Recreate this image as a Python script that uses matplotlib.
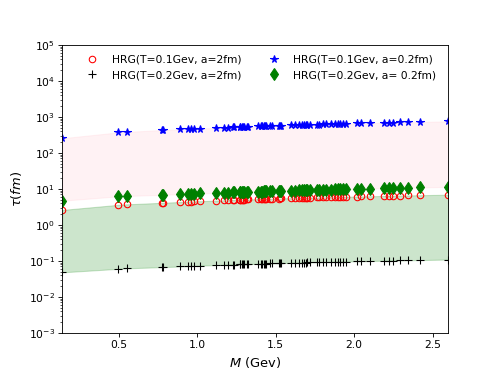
import numpy as np
import matplotlib
matplotlib.use("Agg")
import matplotlib.pyplot as plt
from matplotlib.ticker import LogLocator

# hadron masses (GeV)
mass = [0.138, 0.494, 0.548, 0.775, 0.782, 0.892, 0.939, 0.958, 0.980, 1.019,
        1.116, 1.170, 1.193, 1.230, 1.232, 1.272, 1.275, 1.282, 1.294, 1.300,
        1.318, 1.320, 1.385, 1.405, 1.414, 1.425, 1.430, 1.440, 1.465, 1.475,
        1.520, 1.525, 1.535, 1.600, 1.620, 1.650, 1.670, 1.680, 1.690, 1.700,
        1.720, 1.760, 1.775, 1.800, 1.820, 1.850, 1.880, 1.900, 1.910, 1.930,
        1.950, 2.020, 2.045, 2.100, 2.190, 2.220, 2.250, 2.295, 2.345, 2.420,
        2.600]

# T=0.1 GeV, a=2 fm
tau_t01_a2 = [2.60, 3.60, 3.72, 4.10, 4.12, 4.32, 4.40, 4.44, 4.48, 4.55,
              4.72, 4.82, 4.86, 4.92, 4.92, 4.99, 5.00, 5.01, 5.03, 5.04,
              5.07, 5.07, 5.18, 5.21, 5.23, 5.25, 5.25, 5.27, 5.31, 5.33,
              5.40, 5.41, 5.42, 5.52, 5.55, 5.60, 5.63, 5.64, 5.66, 5.67,
              5.70, 5.76, 5.78, 5.82, 5.85, 5.89, 5.93, 5.96, 5.98, 6.00,
              6.03, 6.13, 6.16, 6.24, 6.36, 6.40, 6.44, 6.50, 6.57, 6.67,
              6.90]

# T=0.2 GeV, a=2 fm
tau_t02_a2 = [0.048, 0.060, 0.062, 0.067, 0.067, 0.070, 0.071, 0.072, 0.072, 0.074,
              0.076, 0.078, 0.078, 0.079, 0.079, 0.080, 0.080, 0.080, 0.081, 0.081,
              0.081, 0.081, 0.083, 0.083, 0.084, 0.084, 0.084, 0.084, 0.085, 0.085,
              0.086, 0.086, 0.087, 0.088, 0.089, 0.089, 0.090, 0.090, 0.090, 0.091,
              0.091, 0.092, 0.092, 0.093, 0.093, 0.094, 0.095, 0.095, 0.095, 0.096,
              0.096, 0.098, 0.098, 0.099, 0.101, 0.102, 0.102, 0.103, 0.104, 0.105,
              0.109]

# T=0.1 GeV, a=0.2 fm
tau_t01_a02 = [255, 370, 382, 430, 432, 450, 458, 462, 466, 475,
               492, 502, 506, 513, 513, 520, 521, 522, 524, 526,
               529, 530, 542, 545, 547, 550, 551, 553, 557, 558,
               567, 568, 570, 582, 585, 591, 595, 597, 598, 600,
               604, 611, 614, 618, 622, 627, 633, 636, 638, 641,
               645, 657, 661, 671, 686, 691, 696, 703, 711, 723,
               750]

# T=0.2 GeV, a=0.2 fm
tau_t02_a02 = [4.70, 6.20, 6.35, 6.85, 6.87, 7.10, 7.20, 7.25, 7.30, 7.45,
               7.70, 7.85, 7.90, 8.00, 8.00, 8.10, 8.10, 8.12, 8.15, 8.17,
               8.20, 8.20, 8.38, 8.43, 8.45, 8.48, 8.50, 8.52, 8.58, 8.60,
               8.72, 8.73, 8.76, 8.93, 8.98, 9.05, 9.10, 9.13, 9.15, 9.18,
               9.23, 9.33, 9.37, 9.43, 9.48, 9.56, 9.63, 9.68, 9.70, 9.75,
               9.80, 9.98, 10.04, 10.18, 10.40, 10.48, 10.55, 10.66, 10.78, 10.96,
               11.40]

fig, ax = plt.subplots(figsize=(6.4, 374 / 77.8125), dpi=77.8125)

ax.fill_between(mass, tau_t01_a02, tau_t02_a02, color='pink', alpha=0.2)
ax.fill_between(mass, tau_t01_a2, tau_t02_a2, color='green', alpha=0.2)

ax.plot(mass, tau_t01_a2, 'o', mfc='none', mec='red', label='HRG(T=0.1Gev, a=2fm)')
ax.plot(mass, tau_t02_a2, '+', color='black', markersize=7, label='HRG(T=0.2Gev, a=2fm)')
ax.plot(mass, tau_t01_a02, '*', color='blue', markersize=7, label='HRG(T=0.1Gev, a=0.2fm)')
ax.plot(mass, tau_t02_a02, 'd', color='green', markersize=8, label='HRG(T=0.2Gev, a= 0.2fm)')

ax.set_yscale('log')
ax.set_ylim(1e-3, 1e5)
ax.set_xlim(min(mass), max(mass))
ax.yaxis.set_major_locator(LogLocator(base=10, numticks=20))
ax.yaxis.set_minor_locator(LogLocator(base=10, subs=np.arange(2, 10), numticks=100))

ax.set_xlabel('$M$ (Gev)', fontsize=12)
ax.set_ylabel(r'$\tau (fm)$', fontsize=12)
ax.legend(loc='upper center', ncol=2, frameon=False, bbox_to_anchor=(0.51, 1.0))

plt.savefig('out.png')
